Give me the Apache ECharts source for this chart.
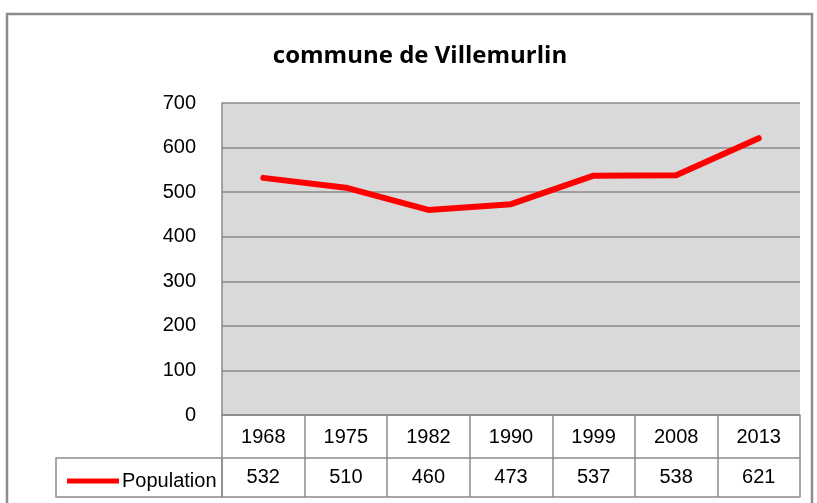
<!DOCTYPE html>
<html>
<head>
<meta charset="utf-8">
<script src="https://cdn.jsdelivr.net/npm/echarts@6/dist/echarts.min.js"></script>
<style>
  html, body { margin: 0; padding: 0; background: #fff; }
  #chart { width: 817px; height: 503px; }
</style>
</head>
<body>
<div id="chart"></div>
<script>
  var years = ['1968', '1975', '1982', '1990', '1999', '2008', '2013'];
  var population = [532, 510, 460, 473, 537, 538, 621];
  var yTicks = { min: 0, max: 700, step: 100 };

  var narrow = "'Liberation Sans Narrow', 'Liberation Sans', Arial, sans-serif";
  var borderGray = '#8a8a8a';

  var myChart = echarts.init(document.getElementById('chart'));
  var option = {
    backgroundColor: '#fff',
    animation: false,
    title: {
      text: 'commune de Villemurlin',
      left: 415,
      top: 39,
      textAlign: 'center',
      textStyle: { fontFamily: "'Open Sans', sans-serif", fontWeight: 'bold', fontSize: 24, color: '#000' }
    },
    legend: {
      left: 62,
      top: 466,
      icon: 'rect',
      itemWidth: 52,
      itemHeight: 5,
      itemGap: 6,
      textStyle: { fontFamily: narrow, fontSize: 20, color: '#000', padding: [0, 0, 0, -2] },
      data: ['Population']
    },
    grid: { left: 222, right: 17, top: 103, bottom: 88, show: true, backgroundColor: '#d9d9d9', borderWidth: 0 },
    xAxis: [
      {
        type: 'category',
        data: years,
        position: 'bottom',
        axisLine: { show: true, lineStyle: { color: borderGray, width: 1.5 } },
        axisTick: { show: true, length: 82, lineStyle: { color: borderGray, width: 1.5 } },
        axisLabel: { margin: 12, fontFamily: narrow, fontSize: 20, color: '#000' }
      },
      {
        type: 'category',
        data: years,
        position: 'bottom',
        offset: 43,
        axisLine: { show: true, lineStyle: { color: borderGray, width: 1.5 } },
        axisTick: { show: false },
        axisLabel: {
          margin: 9, fontFamily: narrow, fontSize: 20, color: '#000',
          formatter: function (v, i) { return String(population[i]); }
        }
      },
      {
        type: 'category',
        data: years,
        position: 'bottom',
        offset: 82,
        axisLine: { show: true, lineStyle: { color: borderGray, width: 1.5 } },
        axisTick: { show: false },
        axisLabel: { show: false }
      }
    ],
    yAxis: {
      type: 'value',
      min: yTicks.min,
      max: yTicks.max,
      interval: yTicks.step,
      axisLine: { show: true, lineStyle: { color: borderGray, width: 1.5 } },
      axisTick: { show: false },
      axisLabel: { margin: 26, fontFamily: narrow, fontSize: 20, color: '#000' },
      splitLine: { show: true, lineStyle: { color: borderGray, width: 1.5 } }
    },
    graphic: [
      {
        type: 'rect',
        shape: { x: 7, y: 14, width: 805, height: 500 },
        style: { fill: 'none', stroke: '#8c8c8c', lineWidth: 2.5 },
        silent: true
      },
      {
        type: 'rect',
        shape: { x: 56, y: 458, width: 166, height: 39 },
        style: { fill: 'none', stroke: borderGray, lineWidth: 1.5 },
        silent: true
      }
    ],
    series: [{
      name: 'Population',
      type: 'line',
      xAxisIndex: 0,
      data: population,
      showSymbol: false,
      symbol: 'none',
      color: '#ff0000',
      lineStyle: { color: '#ff0000', width: 6, join: 'round', cap: 'round' }
    }]
  };
  option && myChart.setOption(option);
</script>
</body>
</html>
